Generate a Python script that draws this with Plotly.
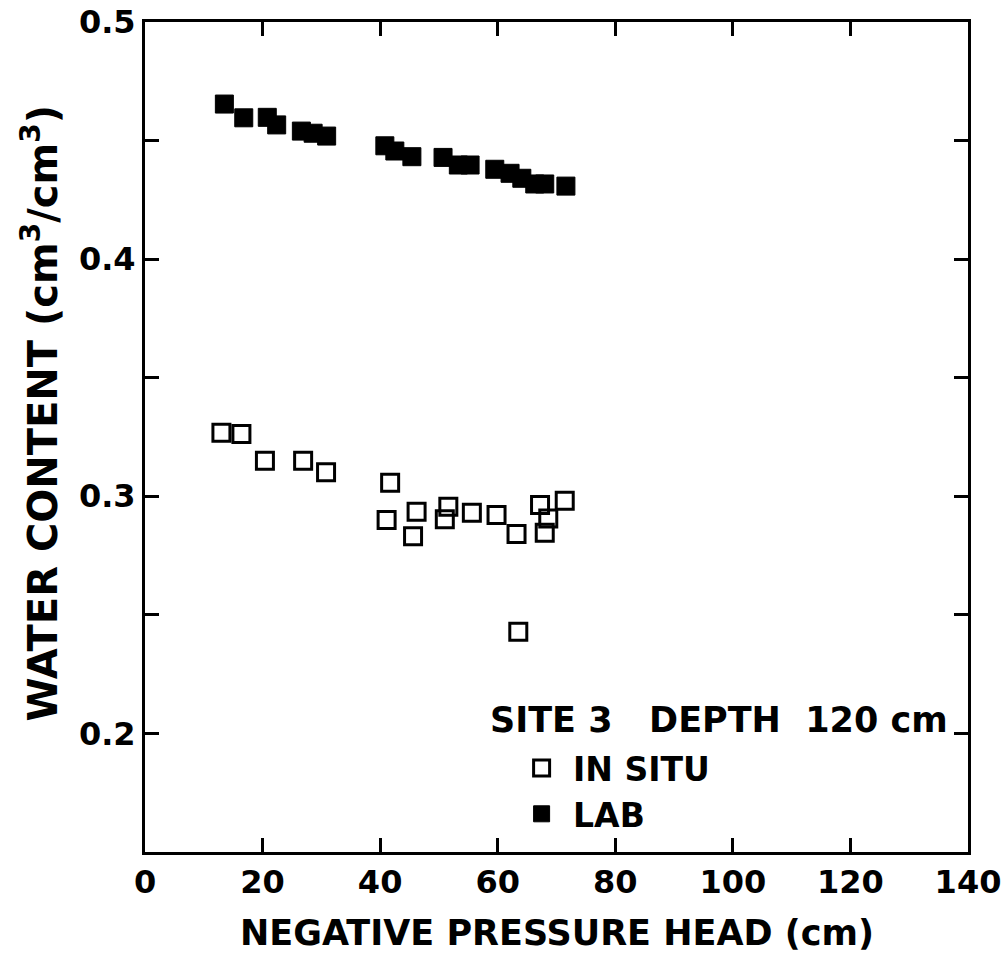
import plotly.graph_objects as go

# IN SITU (open squares)
insitu_x = [13.0, 16.4, 20.4, 26.9, 30.8, 41.7, 41.1, 46.2, 45.6, 51.6,
            51.0, 55.6, 59.8, 63.2, 67.2, 68.6, 68.0, 71.4, 63.5]
insitu_y = [0.3268, 0.3263, 0.3150, 0.3150, 0.3101, 0.3057, 0.2900, 0.2935, 0.2832, 0.2956,
            0.2903, 0.2931, 0.2921, 0.2841, 0.2963, 0.2906, 0.2846, 0.2981, 0.2429]

# LAB (filled squares)
lab_x = [13.5, 16.8, 20.8, 22.4, 26.6, 28.6, 30.9, 40.8, 42.5, 45.4,
         50.7, 53.3, 55.3, 59.5, 62.1, 64.1, 66.3, 68.0, 71.6]
lab_y = [0.4654, 0.4596, 0.4598, 0.4566, 0.4540, 0.4531, 0.4519, 0.4478, 0.4456, 0.4432,
         0.4429, 0.4397, 0.4397, 0.4379, 0.4362, 0.4341, 0.4317, 0.4317, 0.4308]

x_ticks = [0, 20, 40, 60, 80, 100, 120, 140]
y_ticks = [0.2, 0.3, 0.4, 0.5]
y_ticktext = ["0.2", "0.3", "0.4", "0.5"]
y_minor_ticks = [0.25, 0.35, 0.45]

FONT = "DejaVu Sans"
NB = "\u00a0"

fig = go.Figure()
fig.add_trace(go.Scatter(
    x=insitu_x, y=insitu_y, mode="markers", name=NB + "IN SITU",
    marker=dict(symbol="square-open", size=17, color="black", line=dict(width=3, color="black")),
))
fig.add_trace(go.Scatter(
    x=lab_x, y=lab_y, mode="markers", name=NB + "LAB",
    marker=dict(symbol="square", size=18, color="black", line=dict(width=1, color="black")),
))

axis_common = dict(
    showline=True, linewidth=3, linecolor="black", mirror="ticks",
    ticks="inside", ticklen=14, tickwidth=3, tickcolor="black",
    showgrid=False, zeroline=False, automargin=False,
    tickfont=dict(family=FONT, size=32, color="black", weight="bold"),
)

fig.update_xaxes(range=[0, 140], tickmode="array", tickvals=x_ticks,
                 ticktext=[str(v) for v in x_ticks], **axis_common)
fig.update_yaxes(range=[0.15, 0.5], tickmode="array", tickvals=y_ticks,
                 ticktext=y_ticktext,
                 minor=dict(tickmode="array", tickvals=y_minor_ticks, ticks="inside",
                            ticklen=14, tickwidth=3, tickcolor="black", showgrid=False),
                 **axis_common)

fig.update_layout(
    width=1003, height=957,
    margin=dict(l=145, r=35, t=22, b=105, autoexpand=False),
    paper_bgcolor="white", plot_bgcolor="white",
    font=dict(family=FONT, color="black"),
    showlegend=True,
    legend=dict(
        x=0.4576, y=0.135, xanchor="left", yanchor="top",
        bgcolor="rgba(0,0,0,0)", borderwidth=0,
        font=dict(family=FONT, size=33, color="black", weight="bold"),
        tracegroupgap=0,
    ),
    annotations=[
        dict(text="SITE 3" + NB * 3 + "DEPTH" + NB * 2 + "120" + NB + "cm",
             xref="paper", yref="paper",
             x=0.4168, y=0.159, xanchor="left", yanchor="middle", showarrow=False,
             font=dict(family=FONT, size=35, color="black", weight="bold")),
        dict(text="NEGATIVE PRESSURE HEAD (cm)", xref="paper", yref="paper",
             x=0.5006, y=-0.0976, xanchor="center", yanchor="middle", showarrow=False,
             font=dict(family=FONT, size=35, color="black", weight="bold")),
        dict(text="WATER CONTENT (cm<sup>3</sup>/cm<sup>3</sup>)", xref="paper", yref="paper",
             x=-0.128, y=0.529, xanchor="center", yanchor="middle", showarrow=False,
             textangle=-90,
             font=dict(family=FONT, size=40, color="black", weight="bold")),
    ],
)

fig.write_html("out.html")
